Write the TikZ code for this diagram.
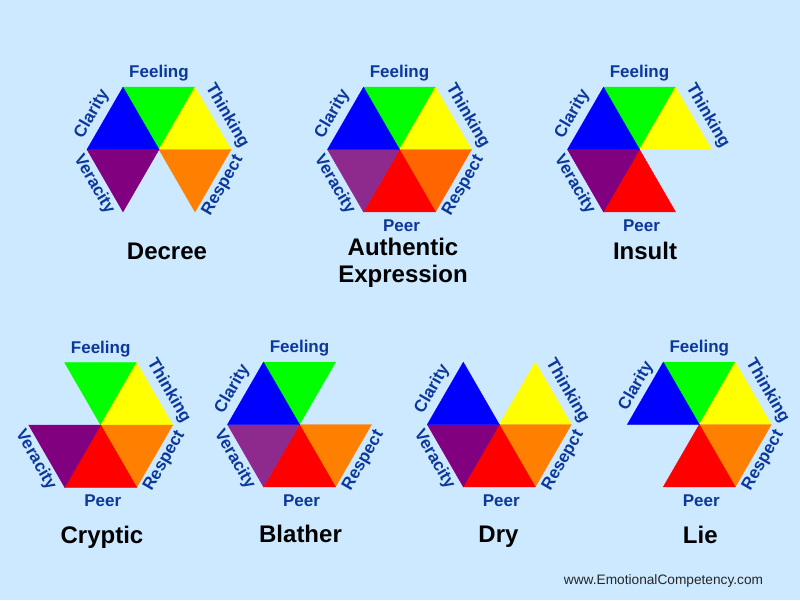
\documentclass[tikz,border=0pt]{standalone}
\usepackage{fontspec}
\setmainfont{Liberation Sans}
\definecolor{bgc}{RGB}{204,233,255}
\definecolor{labc}{RGB}{12,55,155}
\definecolor{cgreen}{RGB}{0,255,0}
\definecolor{cyellow}{RGB}{255,255,0}
\definecolor{corange}{RGB}{255,128,0}
\definecolor{corangeB}{RGB}{255,102,0}
\definecolor{cred}{RGB}{255,0,0}
\definecolor{cpurple}{RGB}{128,0,128}
\definecolor{cpurpleB}{RGB}{142,42,142}
\definecolor{cblue}{RGB}{0,0,255}
\newcommand\TriFeel[1]{\filldraw[tri,#1] (0,0) -- (36,-62.35) -- (-36,-62.35) -- cycle;}
\newcommand\TriThink[1]{\filldraw[tri,#1] (0,0) -- (72,0) -- (36,-62.35) -- cycle;}
\newcommand\TriResp[1]{\filldraw[tri,#1] (0,0) -- (36,62.35) -- (72,0) -- cycle;}
\newcommand\TriPeer[1]{\filldraw[tri,#1] (0,0) -- (-36,62.35) -- (36,62.35) -- cycle;}
\newcommand\TriVer[1]{\filldraw[tri,#1] (0,0) -- (-72,0) -- (-36,62.35) -- cycle;}
\newcommand\TriClar[1]{\filldraw[tri,#1] (0,0) -- (-36,-62.35) -- (-72,0) -- cycle;}
\tikzset{
  tri/.style={line width=0.4pt, line join=miter},
  lab/.style={text=labc, font=\fontsize{17}{19}\selectfont\bfseries, inner sep=0pt},
  labfeel/.style={lab, anchor=base},
  labthink/.style={lab, rotate=-60},
  labresp/.style={lab, rotate=60},
  labver/.style={lab, rotate=-60},
  labclar/.style={lab, rotate=60},
  title/.style={text=black, font=\fontsize{24}{27}\selectfont\bfseries, inner sep=0pt, anchor=base},
}
\begin{document}
\begin{tikzpicture}[x=1pt,y=-1pt]
\useasboundingbox (0,0) rectangle (800,600);
\fill[bgc] (0,0) rectangle (800,600);

% 1 Decree
\begin{scope}[shift={(159,149.5)}]
\TriFeel{cgreen}\TriThink{cyellow}\TriResp{corange}\TriVer{cpurple}\TriClar{cblue}
\node[labfeel] (d-feel) at (0,-71.8) {Feeling};
\node[labthink] (d-think) at (68,-34) {Thinking};
\node[labresp] (d-resp) at (64,36) {Respect};
\node[labver] (d-ver) at (-65,35) {Veracity};
\node[labclar] (d-clar) at (-67,-35) {Clarity};
\end{scope}
\node[title] (d-title) at (167,259) {Decree};

% 2 Authentic Expression
\begin{scope}[shift={(399.5,149.5)}]
\TriFeel{cgreen}\TriThink{cyellow}\TriResp{corangeB}\TriPeer{cred}\TriVer{cpurpleB}\TriClar{cblue}
\node[labfeel] (a-feel) at (0,-71.8) {Feeling};
\node[labthink] (a-think) at (68,-34) {Thinking};
\node[labresp] (a-resp) at (64,36) {Respect};
\node[labfeel] (a-peer) at (2,81.5) {Peer};
\node[labver] (a-ver) at (-65,35) {Veracity};
\node[labclar] (a-clar) at (-67,-35) {Clarity};
\end{scope}
\node[title] (a-title1) at (403,255) {Authentic};
\node[title] (a-title2) at (403,282) {Expression};

% 3 Insult
\begin{scope}[shift={(639.5,149.5)}]
\TriFeel{cgreen}\TriThink{cyellow}\TriPeer{cred}\TriVer{cpurple}\TriClar{cblue}
\node[labfeel] (i-feel) at (0,-71.8) {Feeling};
\node[labthink] (i-think) at (68,-34) {Thinking};
\node[labfeel] (i-peer) at (2,81.5) {Peer};
\node[labver] (i-ver) at (-65,35) {Veracity};
\node[labclar] (i-clar) at (-67,-35) {Clarity};
\end{scope}
\node[title] (i-title) at (645,259) {Insult};

% 4 Cryptic
\begin{scope}[shift={(100.7,425)}]
\TriFeel{cgreen}\TriThink{cyellow}\TriResp{corange}\TriPeer{cred}\TriVer{cpurple}
\node[labfeel] (c-feel) at (0,-71.8) {Feeling};
\node[labthink] (c-think) at (68,-34) {Thinking};
\node[labresp] (c-resp) at (64,36) {Respect};
\node[labfeel] (c-peer) at (2,81.5) {Peer};
\node[labver] (c-ver) at (-65,35) {Veracity};
\end{scope}
\node[title] (c-title) at (102,543.5) {Cryptic};

% 5 Blather
\begin{scope}[shift={(299.5,424.5)}]
\TriFeel{cgreen}\TriResp{corange}\TriPeer{cred}\TriVer{cpurpleB}\TriClar{cblue}
\node[labfeel] (b-feel) at (0,-71.8) {Feeling};
\node[labresp] (b-resp) at (64,36) {Respect};
\node[labfeel] (b-peer) at (2,81.5) {Peer};
\node[labver] (b-ver) at (-65,35) {Veracity};
\node[labclar] (b-clar) at (-67,-35) {Clarity};
\end{scope}
\node[title] (b-title) at (300.5,542.5) {Blather};

% 6 Dry
\begin{scope}[shift={(499.3,424.5)}]
\TriThink{cyellow}\TriResp{corange}\TriPeer{cred}\TriVer{cpurple}\TriClar{cblue}
\node[labthink] (y-think) at (68,-34) {Thinking};
\node[labresp] (y-resp) at (64,36) {Resepct};
\node[labfeel] (y-peer) at (2,81.5) {Peer};
\node[labver] (y-ver) at (-65,35) {Veracity};
\node[labclar] (y-clar) at (-67,-35) {Clarity};
\end{scope}
\node[title] (y-title) at (498.5,542.5) {Dry};

% 7 Lie
\begin{scope}[shift={(699.3,424.5)}]
\TriFeel{cgreen}\TriThink{cyellow}\TriResp{corange}\TriPeer{cred}\TriClar{cblue}
\node[labfeel] (l-feel) at (0,-71.8) {Feeling};
\node[labthink] (l-think) at (68,-34) {Thinking};
\node[labresp] (l-resp) at (64,36) {Respect};
\node[labfeel] (l-peer) at (2,81.5) {Peer};
\node[labclar] (l-clar) at (-63,-38) {Clarity};
\end{scope}
\node[title] (l-title) at (700.3,543.5) {Lie};

\node[text=black!85, font=\fontsize{13.7}{15}\selectfont, inner sep=0pt, anchor=base] (web) at (663.5,584) {www.EmotionalCompetency.com};
\end{tikzpicture}
\end{document}
